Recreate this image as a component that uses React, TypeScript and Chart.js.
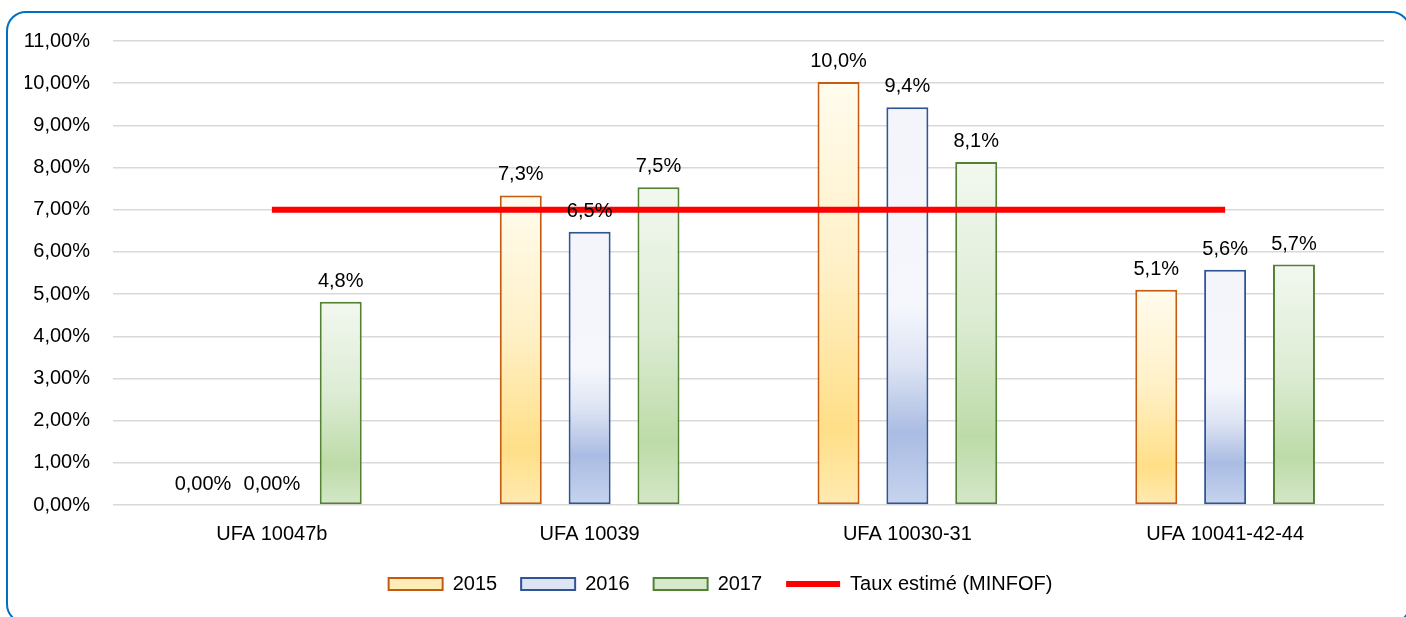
import React, { useEffect, useRef } from "react";
import { Chart, registerables } from "chart.js";

Chart.register(...registerables);

const categories = ["UFA 10047b", "UFA 10039", "UFA 10030-31", "UFA 10041-42-44"];
const seriesNames = ["2015", "2016", "2017"];
const values2015 = [0, 7.34, 10.03, 5.1];
const values2016 = [0, 6.48, 9.43, 5.58];
const values2017 = [4.82, 7.53, 8.13, 5.7];
const minfofName = "Taux estimé (MINFOF)";
const minfofRate = [7, 7, 7, 7];
const yMin = 0;
const yMax = 11;
const yStep = 1;

const FONT = "'Liberation Sans', Arial, sans-serif";
const FS = 20;

const borders = ["#C55A11", "#2F5597", "#548235"];
const legendFills = ["#FFEDB8", "#DDE4F3", "#D6E9CB"];
const gradientStops: [number, string][][] = [
  [[0, "#FFFCEE"], [0.45, "#FFF0C6"], [0.82, "#FFDF87"], [1, "#FFEAB2"]],
  [[0, "#F3F5FB"], [0.5, "#F5F7FC"], [0.65, "#DCE3F3"], [0.82, "#AABCE3"], [1, "#C7D4EE"]],
  [[0, "#F2F8EF"], [0.45, "#DDECD4"], [0.8, "#BDDBA8"], [1, "#D4E7C8"]],
];

const fmtLabel = (v: number) =>
  v === 0 ? "0,00%" : v.toFixed(1).replace(".", ",") + "%";

const barLabelPlugin = {
  id: "barLabels",
  afterLayout(chart: any) {
    if (chart.legend) {
      chart.legend.left += 16;
      chart.legend.right += 16;
    }
  },
  afterDraw(chart: any) {
    const ctx = chart.ctx;
    ctx.save();
    ctx.font = `${FS}px ${FONT}`;
    ctx.fillStyle = "#000000";
    ctx.textAlign = "center";
    ctx.textBaseline = "alphabetic";
    chart.data.datasets.forEach((ds: any, i: number) => {
      if (ds.type !== "bar") return;
      const meta = chart.getDatasetMeta(i);
      meta.data.forEach((el: any, j: number) => {
        const v = ds.data[j];
        ctx.fillText(fmtLabel(v), el.x, el.y - 15);
      });
    });
    ctx.restore();
  },
};

function makeBg(idx: number) {
  return (c: any) => {
    const chart = c.chart;
    if (c.type !== "data" || !chart.chartArea) return legendFills[idx];
    const y = chart.scales.y;
    const top = y.getPixelForValue(c.raw);
    const base = y.getPixelForValue(0);
    if (base - top < 1) return legendFills[idx];
    const g = chart.ctx.createLinearGradient(0, top, 0, base);
    gradientStops[idx].forEach(([o, col]) => g.addColorStop(o, col));
    return g;
  };
}

const barSeries = [values2015, values2016, values2017];

export default function App() {
  const ref = useRef<HTMLCanvasElement | null>(null);
  useEffect(() => {
    document.body.style.margin = "0";
    const yTicks: number[] = [];
    for (let v = yMin; v <= yMax; v += yStep) yTicks.push(v);
    const chart = new Chart(ref.current as HTMLCanvasElement, {
      type: "bar",
      data: {
        labels: categories,
        datasets: [
          ...barSeries.map((vals, i) => ({
            type: "bar" as const,
            label: seriesNames[i],
            data: vals,
            backgroundColor: makeBg(i),
            borderColor: borders[i],
            borderWidth: (c: any) => (c.raw === 0 ? 0 : 2),
            borderSkipped: false as const,
            categoryPercentage: 0.65,
            barPercentage: 0.61,
            order: 1,
          })),
          {
            type: "line" as const,
            label: minfofName,
            data: minfofRate,
            borderColor: "#FF0000",
            backgroundColor: "#FF0000",
            borderWidth: 6,
            pointRadius: 0,
            tension: 0,
            order: 0,
          },
        ],
      },
      options: {
        animation: false,
        responsive: false,
        maintainAspectRatio: false,
        layout: { padding: { left: 25, right: 22, top: 41, bottom: 13 } },
        plugins: {
          tooltip: { enabled: false },
          legend: {
            position: "bottom",
            labels: {
              font: { family: FONT, size: FS },
              color: "#000000",
              usePointStyle: true,
              pointStyleWidth: 54,
              boxHeight: 12,
              padding: 24,
              sort: (a: any, b: any) => a.datasetIndex - b.datasetIndex,
              generateLabels: (chart: any) =>
                chart.data.datasets.map((ds: any, i: number) => {
                  const isLine = ds.type === "line";
                  return {
                    text: ds.label,
                    datasetIndex: i,
                    fillStyle: isLine ? "#FF0000" : legendFills[i],
                    strokeStyle: isLine ? "#FF0000" : borders[i],
                    lineWidth: isLine ? 6 : 2,
                    pointStyle: isLine ? "line" : "rect",
                    hidden: false,
                    fontColor: "#000000",
                  };
                }),
            },
          },
        },
        scales: {
          x: {
            afterFit: (s: any) => {
              s.height = 45;
            },
            grid: { display: false, drawTicks: false },
            border: { display: false },
            ticks: { font: { family: FONT, size: FS }, color: "#000000", padding: 17 },
          },
          y: {
            min: yMin,
            max: yMax,
            afterFit: (s: any) => {
              s.width = 88;
            },
            afterBuildTicks: (s: any) => {
              s.ticks = yTicks.map((v) => ({ value: v }));
            },
            grid: { color: "#D9D9D9", lineWidth: 1.5, drawTicks: false },
            border: { display: false },
            ticks: {
              font: { family: FONT, size: FS },
              color: "#000000",
              padding: 23,
              callback: (v: any) => Number(v).toFixed(2).replace(".", ",") + "%",
            },
          },
        },
      },
      plugins: [barLabelPlugin],
    });
    return () => chart.destroy();
  }, []);

  return (
    <div
      style={{
        position: "fixed",
        left: 0,
        top: 0,
        width: 1406,
        height: 617,
        overflow: "hidden",
        background: "#ffffff",
      }}
    >
      <div
        style={{
          position: "absolute",
          left: 6,
          top: 11,
          width: 1405,
          height: 613,
          border: "2.5px solid #0070C0",
          borderRadius: 20,
          boxSizing: "border-box",
        }}
      />
      <canvas
        ref={ref}
        width={1406}
        height={617}
        style={{ position: "absolute", left: 0, top: 0, width: 1406, height: 617 }}
      />
    </div>
  );
}
